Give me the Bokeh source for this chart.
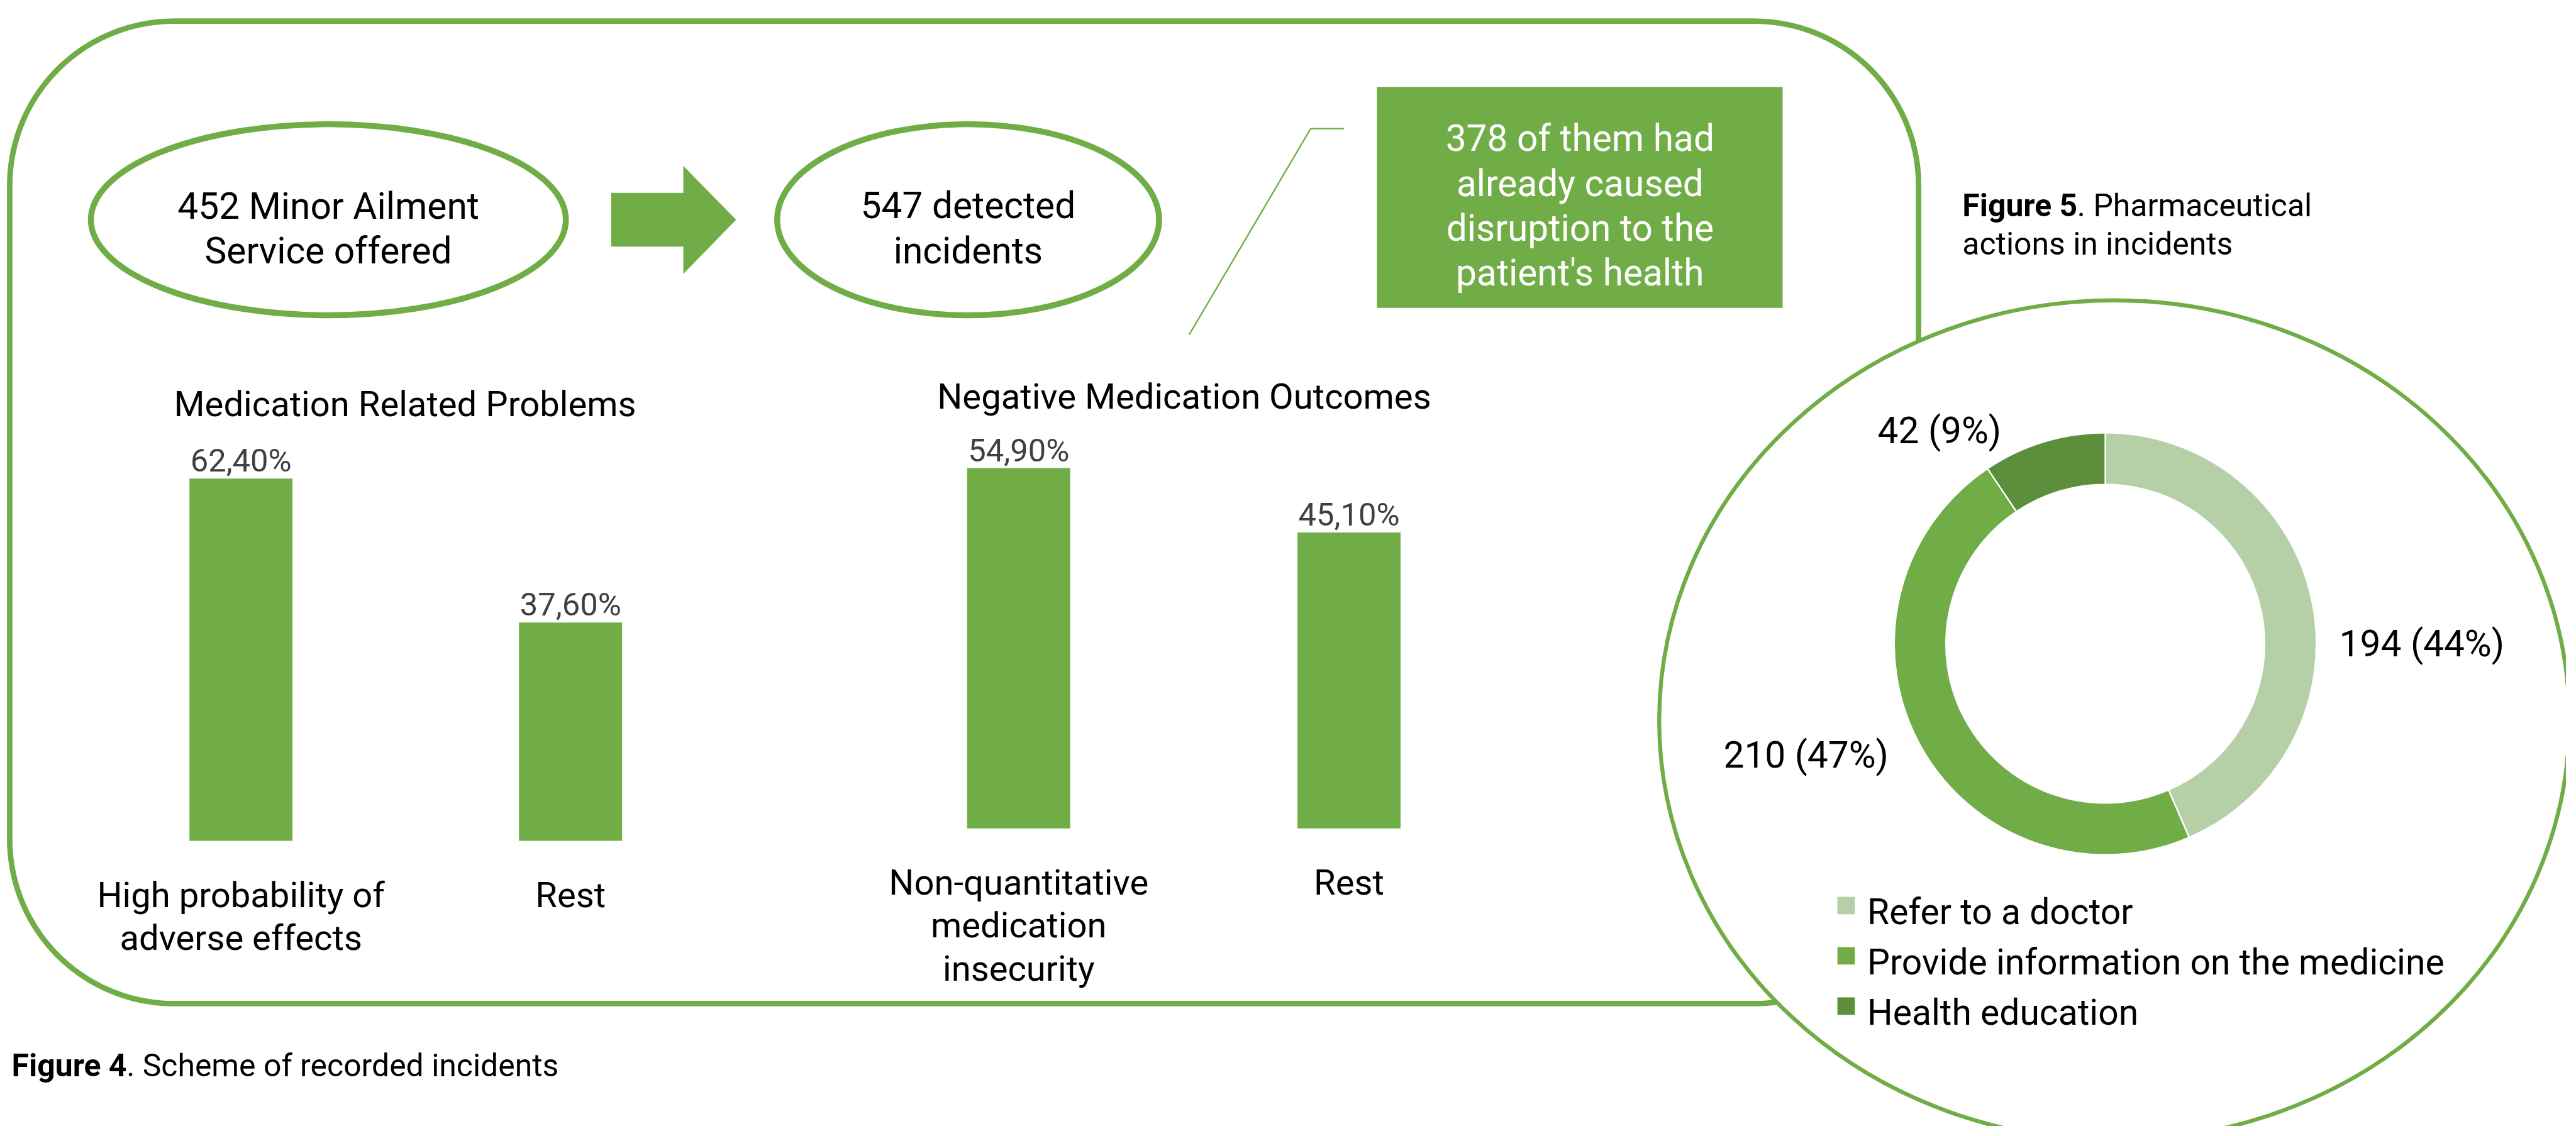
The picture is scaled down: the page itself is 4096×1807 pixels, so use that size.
import numpy as np
from bokeh.plotting import figure
from bokeh.models import Range1d
from bokeh.core.properties import value
from bokeh.embed import file_html
from bokeh.resources import INLINE

# ---------------- data ----------------
services_offered = 452
detected_incidents = 547
health_disruptions = 378

mrp_title = "Medication Related Problems"
mrp_categories = ["High probability of\nadverse effects", "Rest"]
mrp_values = [62.4, 37.6]

nmo_title = "Negative Medication Outcomes"
nmo_categories = ["Non-quantitative\nmedication\ninsecurity", "Rest"]
nmo_values = [54.9, 45.1]

action_labels = ["Refer to a doctor", "Provide information on the medicine", "Health education"]
action_counts = [194, 210, 42]

fig4_bold, fig4_rest = "Figure 4", ". Scheme of recorded incidents"
fig5_bold, fig5_rest, fig5_line2 = "Figure 5", ". Pharmaceutical", "actions in incidents"

# ---------------- style / layout ----------------
W_REF, H_REF = 5174, 2283
S = 4096 / W_REF            # drawing scale (0.791)
MARGIN = 8                  # page margin in window px
W, H = 4080, 1791           # figure size in px
XL = MARGIN / S
XR = XL + W / S
YT = MARGIN / S
YB = YT + H / S
TEXT_DY = -12               # baseline correction (reference px)

GREEN = "#70AD47"
LIGHT = "#B5CFA7"
DARK = "#5B8F3B"
ACTION_COLORS = [LIGHT, GREEN, DARK]
FONT = "Roboto"


def fpx(ref):
    return f"{ref * S:.1f}px"


p = figure(width=W, height=H, x_range=Range1d(XL, XR), y_range=Range1d(YB, YT),
           output_backend="svg", toolbar_location=None, min_border=0,
           x_axis_location=None, y_axis_location=None, outline_line_color=None,
           background_fill_color="white", border_fill_color="white")
p.grid.visible = False


def txt(x, y, s, size, color="black", align="center", bold=False):
    p.text(x=[x], y=[y + TEXT_DY], text=[s], text_font=value(FONT), text_font_size=fpx(size),
           text_color=color, text_align=align, text_baseline="alphabetic",
           text_font_style="bold" if bold else "normal")


# ---- rounded rectangle frame (Figure 4) ----
def rounded_path(l, t, r, b, rad, n=60):
    xs, ys = [], []
    for cx, cy, a0, a1 in [(r - rad, t + rad, -np.pi / 2, 0),
                           (r - rad, b - rad, 0, np.pi / 2),
                           (l + rad, b - rad, np.pi / 2, np.pi),
                           (l + rad, t + rad, np.pi, 1.5 * np.pi)]:
        th = np.linspace(a0, a1, n)
        xs.extend(cx + rad * np.cos(th))
        ys.extend(cy + rad * np.sin(th))
    xs.append(xs[0]); ys.append(ys[0])
    return xs, ys


fx, fy = rounded_path(29, 52, 3863, 2026, 330)
p.line(fx, fy, line_color=GREEN, line_width=11 * S, line_join="round")

# ---- big ellipse (Figure 5) ----
p.ellipse(x=[4256], y=[1457], width=[1828], height=[1688], fill_color="white",
          line_color=GREEN, line_width=8 * S)

# ---- top ellipses with text ----
p.ellipse(x=[669, 1954], y=[451, 451], width=[954, 767], height=[384, 384],
          fill_color="white", line_color=GREEN, line_width=12 * S)
txt(669, 436, f"{services_offered} Minor Ailment", 74)
txt(669, 526, "Service offered", 74)
txt(1954, 435, f"{detected_incidents} detected", 74)
txt(1954, 525, "incidents", 74)

# arrow
p.patch([1237, 1382, 1382, 1488, 1382, 1382, 1237],
        [397, 397, 343, 451, 560, 505, 505], color=GREEN, line_width=0)

# callout
p.line([2709, 2642, 2398], [268, 268, 682], line_color=GREEN, line_width=3 * S)
p.quad(left=[2775], right=[3590], top=[184], bottom=[628], color=GREEN, line_width=0)
callout_lines = [f"{health_disruptions} of them had", "already caused",
                 "disruption to the", "patient's health"]
for i, s in enumerate(callout_lines):
    txt(3183, 300 + i * 89.7, s, 74, color="white")


# ---- bar charts ----
def bar_chart(name, title, title_xy, categories, values, x0, dx, base, ppu, bar_w, lab_gap):
    p.extra_x_ranges[name] = Range1d(start=(XL - x0) / dx, end=(XR - x0) / dx)
    p.extra_y_ranges[name] = Range1d(start=(base - YB) / ppu, end=(base - YT) / ppu)
    idx = list(range(len(values)))
    p.vbar(x=idx, top=values, bottom=0, width=bar_w / dx, color=GREEN, line_width=0,
           x_range_name=name, y_range_name=name)
    labels = [f"{v:.2f}%".replace(".", ",") for v in values]
    lab_y = [v + (lab_gap - TEXT_DY) / ppu for v in values]
    p.text(x=idx, y=lab_y, text=labels, text_font=value(FONT), text_font_size=fpx(64),
           text_color="#404040", text_align="center", text_baseline="alphabetic",
           x_range_name=name, y_range_name=name)
    for i, cat in enumerate(categories):
        for j, line in enumerate(cat.split("\n")):
            p.text(x=[i], y=[base + 121 + j * 86.5 + TEXT_DY], text=[line], text_font=value(FONT),
                   text_font_size=fpx(71), text_color="black", text_align="center",
                   text_baseline="alphabetic", x_range_name=name)
    txt(title_xy[0], title_xy[1], title, 71)


bar_chart("mrp", mrp_title, (823, 834), mrp_categories, mrp_values,
          493.5, 662.0, 1699, 728 / 62.4, 207, 24)
bar_chart("nmo", nmo_title, (2388, 819), nmo_categories, nmo_values,
          2055.5, 663.5, 1674, 724 / 54.9, 207, 24)

# ---- donut ----
DCX, DCY = 4238, 1303
p.extra_x_ranges["donut"] = Range1d(start=XL - DCX, end=XR - DCX)
p.extra_y_ranges["donut"] = Range1d(start=DCY - YB, end=DCY - YT)
total = sum(action_counts)
fr = np.array(action_counts) / total
cum = np.concatenate([[0], np.cumsum(fr)])
starts = np.pi / 2 - 2 * np.pi * cum[:-1]
ends = np.pi / 2 - 2 * np.pi * cum[1:]
p.annular_wedge(x=0, y=0, inner_radius=320, outer_radius=424,
                start_angle=list(starts), end_angle=list(ends), direction="clock",
                fill_color=ACTION_COLORS, line_color="white", line_width=3 * S,
                x_range_name="donut", y_range_name="donut")

# whole-number percentages that add up to 100 (largest remainder)
raw = 100 * fr
pct = np.floor(raw).astype(int)
for k in np.argsort(-(raw - pct))[: 100 - pct.sum()]:
    pct[k] += 1
donut_labels = [f"{c} ({q}%)" for c, q in zip(action_counts, pct)]
label_x = [4708, 3637, 3905]
label_y = [1315, 1538, 887]
label_align = ["left", "center", "center"]
for s, lx, ly, la in zip(donut_labels, label_x, label_y, label_align):
    txt(lx, ly, s, 74, align=la)

# legend
for i, (lab, col) in enumerate(zip(action_labels, ACTION_COLORS)):
    p.rect(x=[3717.5], y=[1829 + i * 101], width=[35], height=[35], fill_color=col, line_width=0)
    txt(3760, 1854 + i * 101, lab, 72, align="left")

# ---- captions ----
txt(33, 2162, fig4_bold, 63, align="left", bold=True)
txt(33 + 3.66 * 63, 2162, fig4_rest, 63, align="left")
txt(3951, 435, fig5_bold, 63, align="left", bold=True)
txt(3951 + 3.66 * 63, 435, fig5_rest, 63, align="left")
txt(3951, 512, fig5_line2, 63, align="left")

open("out.html", "w").write(file_html(p, INLINE))
